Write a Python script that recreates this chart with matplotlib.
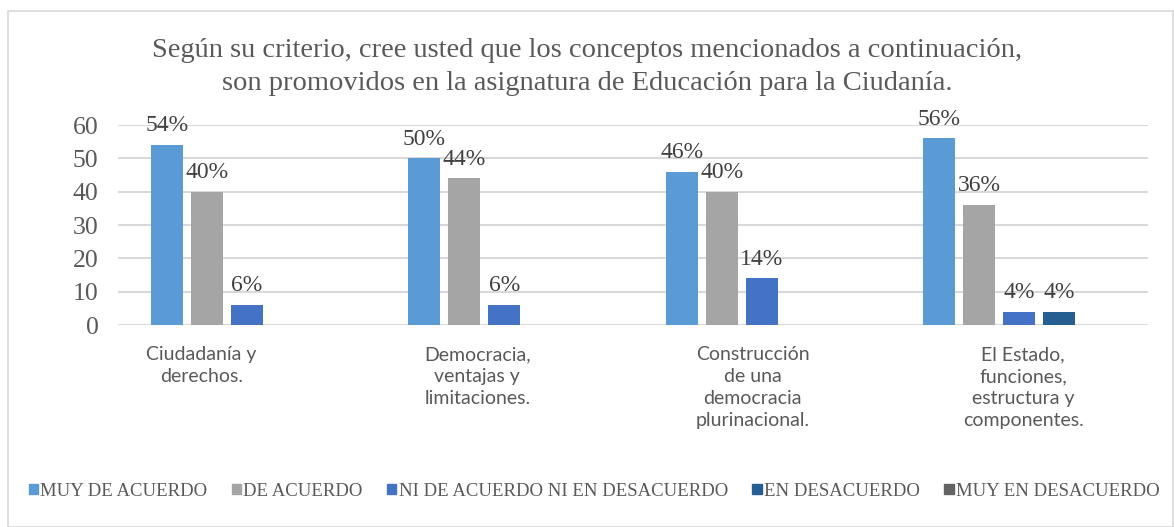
import matplotlib.pyplot as plt
import numpy as np
from matplotlib.patches import Rectangle

# Datos del grafico
categorias = ["Ciudadanía y\nderechos.",
              "Democracia,\nventajas y\nlimitaciones.",
              "Construcción\nde una\ndemocracia\nplurinacional.",
              "El Estado,\nfunciones,\nestructura y\ncomponentes."]
series = ["MUY DE ACUERDO", "DE ACUERDO", "NI DE ACUERDO NI EN DESACUERDO",
          "EN DESACUERDO", "MUY EN DESACUERDO"]
muy_de_acuerdo = [54, 50, 46, 56]
de_acuerdo = [40, 44, 40, 36]
ni_ni = [6, 6, 14, 4]
en_desacuerdo = [0, 0, 0, 4]
muy_en_desacuerdo = [0, 0, 0, 0]
valores = [muy_de_acuerdo, de_acuerdo, ni_ni, en_desacuerdo, muy_en_desacuerdo]
colores = ["#5B9BD5", "#A5A5A5", "#4472C4", "#255E91", "#636363"]

titulo = ("Según su criterio, cree usted que los conceptos mencionados a continuación,\n"
          "son promovidos en la asignatura de Educación para la Ciudanía.")

serif = "Liberation Serif"
gris = "#595959"

fig = plt.figure(figsize=(11.74, 5.27), dpi=100)
# marco del grafico
fig.patches.append(Rectangle((8 / 1174, 0), 1 - 9 / 1174, 1 - 11 / 527,
                             transform=fig.transFigure, fill=False,
                             edgecolor="#D9D9D9", linewidth=1.2))

ax = fig.add_axes([118 / 1174, 1 - 325 / 527, 1030 / 1174, 200 / 527])

x = np.arange(len(categorias))
slot = 0.155
ancho = 0.124
for i, (vals, col) in enumerate(zip(valores, colores)):
    pos = x + (i - 2) * slot
    ax.bar(pos, vals, width=ancho, color=col, zorder=3)
    for px, v in zip(pos, vals):
        if v > 0:
            ax.text(px, v + 2.6, "%d%%" % v, ha="center", va="bottom",
                    fontsize=17, family=serif, color="#404040", zorder=4)

ax.set_xlim(-0.5, len(categorias) - 0.5)
ax.set_ylim(0, 60)
ax.set_yticks(range(0, 61, 10))
ax.yaxis.grid(True, color="#D9D9D9", linewidth=1.5, zorder=0)
ax.tick_params(axis="y", length=0, labelsize=18.5, labelcolor=gris, pad=14)
for lab in ax.get_yticklabels():
    lab.set_family(serif)
ax.set_xticks([])
for s in ax.spines.values():
    s.set_visible(False)

# etiquetas de categorias
desplaz = [-0.175, -0.105, -0.035, 0.015]
for xi, cat, d in zip(x, categorias, desplaz):
    ax.text(xi + d, -6.3, cat, ha="center", va="top", fontsize=14,
            family="Lato", color=gris, linespacing=1.35,
            transform=ax.transData, clip_on=False)

fig.text(0.5, 1 - 67 / 527, titulo, ha="center", va="center",
         fontsize=20.5, family=serif, color=gris, linespacing=1.4)

handles = [Rectangle((0, 0), 1, 1, color=c) for c in colores]
leg = fig.legend(handles, series, loc="center", bbox_to_anchor=(0.506, 1 - 491 / 527),
                 ncol=5, frameon=False, handlelength=0.5, handleheight=0.5,
                 handletextpad=0.12, columnspacing=1.3,
                 prop={"family": serif, "size": 13.5})
for t in leg.get_texts():
    t.set_color(gris)

fig.savefig("out.png", dpi=100)
